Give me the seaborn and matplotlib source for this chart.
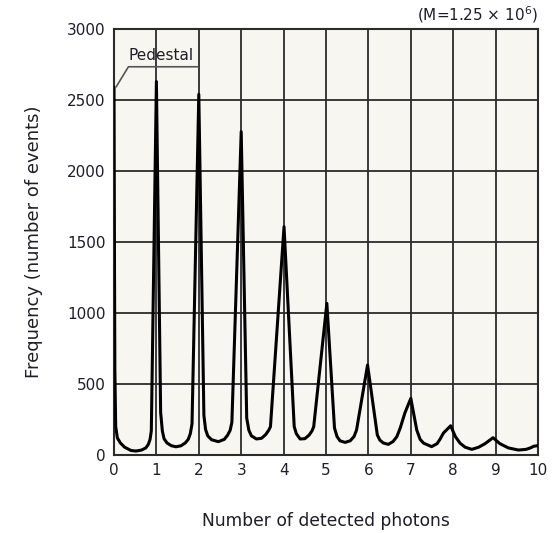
import matplotlib
matplotlib.use("Agg")
import matplotlib.pyplot as plt
import seaborn as sns

# photon-counting histogram, points
photons = [
    0.0, 0.01, 0.02, 0.04, 0.08, 0.15, 0.25, 0.4, 0.52, 0.65, 0.75, 0.81, 0.85, 0.88,
    1.0, 1.1, 1.14, 1.18, 1.25, 1.35, 1.46, 1.58, 1.68, 1.75, 1.8, 1.84,
    2.0, 2.12, 2.16, 2.21, 2.3, 2.46, 2.6, 2.68, 2.74, 2.78,
    3.0, 3.13, 3.18, 3.24, 3.36, 3.48, 3.58, 3.65, 3.69,
    4.01, 4.25, 4.3, 4.39, 4.5, 4.6, 4.67, 4.71,
    5.02, 5.2, 5.26, 5.33, 5.45, 5.57, 5.66, 5.72,
    5.98, 6.21, 6.27, 6.35, 6.47, 6.58, 6.67, 6.75, 6.86,
    7.0, 7.14, 7.22, 7.3, 7.49, 7.62, 7.69, 7.77,
    7.94, 8.05, 8.16, 8.28, 8.44, 8.6, 8.75,
    8.94, 9.1, 9.3, 9.54, 9.72, 9.82, 9.9, 10.0,
]
frequency = [
    2590, 1500, 600, 200, 120, 85, 55, 32, 28, 35, 50, 75, 110, 170,
    2630, 300, 170, 115, 85, 66, 58, 65, 85, 110, 150, 220,
    2540, 280, 180, 135, 108, 94, 110, 140, 175, 230,
    2277, 260, 175, 135, 113, 118, 145, 175, 200,
    1608, 200, 150, 113, 115, 140, 170, 200,
    1068, 190, 130, 100, 89, 100, 130, 176,
    634, 141, 105, 85, 75, 95, 129, 190, 296,
    399, 176, 110, 84, 59, 80, 112, 155,
    206, 130, 84, 55, 40, 55, 80,
    122, 80, 50, 35, 40, 50, 62, 66,
]

xticks = list(range(0, 11))
yticks = list(range(0, 3001, 500))

sns.set_style("white", {"axes.facecolor": "#f7f6f0", "axes.edgecolor": "#2b2b2b"})
plt.rcParams["font.family"] = ["DejaVu Sans"]
text_color = "#1e1e28"

fig = plt.figure(figsize=(5.58, 5.33), dpi=100)
ax = fig.add_axes([0.2043, 0.1463, 0.7599, 0.7993])

sns.lineplot(x=photons, y=frequency, sort=False, estimator=None, color="black",
             linewidth=2.2, ax=ax, zorder=3)

ax.set_xlim(0, 10)
ax.set_ylim(0, 3000)
ax.set_xticks(xticks)
ax.set_yticks(yticks)
ax.grid(True, color="#2b2b2b", linewidth=1.3, zorder=1)
ax.set_axisbelow(True)
for s in ax.spines.values():
    s.set_linewidth(1.5)
    s.set_color("#2b2b2b")
ax.tick_params(length=0, labelsize=11, colors=text_color, pad=6)

ax.set_xlabel("Number of detected photons", fontsize=12.3, color=text_color, labelpad=24)
ax.set_ylabel("Frequency (number of events)", fontsize=13, color=text_color, labelpad=17)

# pedestal callout
ax.text(1.1, 2815, "Pedestal", fontsize=11, color=text_color, ha="center", va="center", zorder=4)
ax.plot([0.05, 0.34, 1.98], [2592, 2734, 2734], color="#555555", linewidth=1.2, zorder=4)

fig.text(0.964, 0.972, "(M=1.25 × 10$^6$)", fontsize=11, color=text_color, ha="right", va="center")

fig.savefig("out.png", dpi=100, facecolor="white")
